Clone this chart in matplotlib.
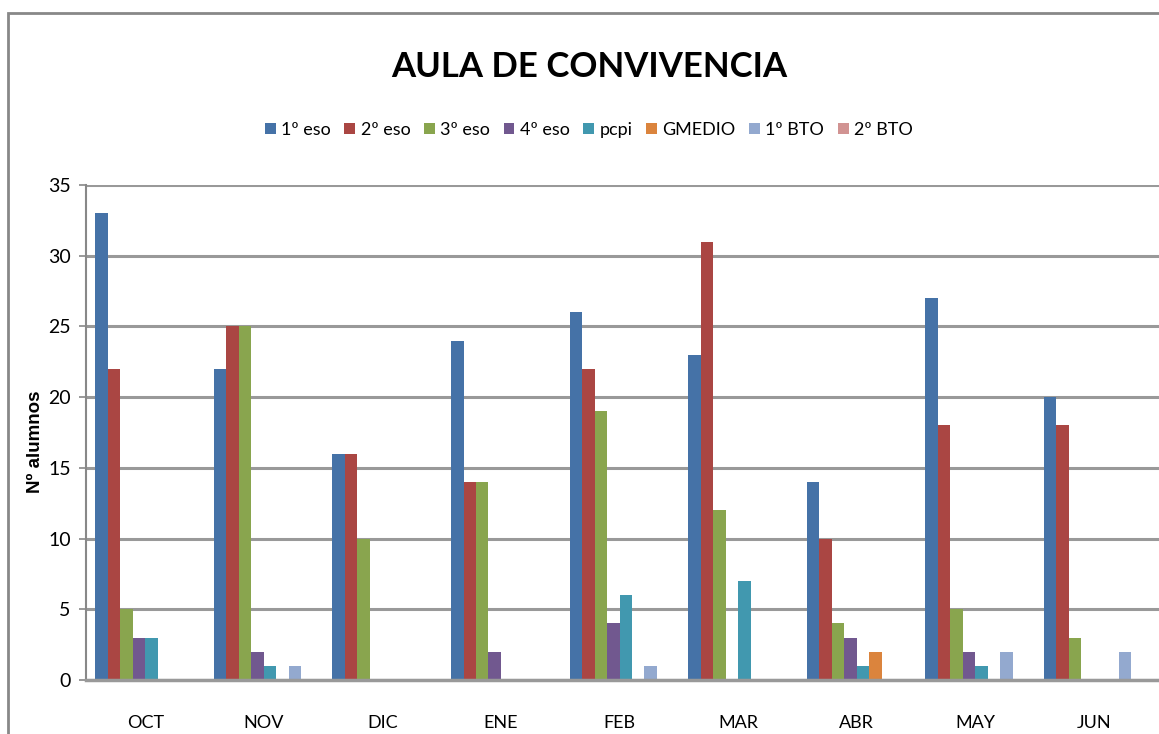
import numpy as np
import matplotlib
matplotlib.use("Agg")
from matplotlib import pyplot as plt
from matplotlib.patches import Rectangle

plt.rcParams['font.family'] = ['Lato', 'DejaVu Sans']

meses = ['OCT', 'NOV', 'DIC', 'ENE', 'FEB', 'MAR', 'ABR', 'MAY', 'JUN']
cursos = ['1º eso', '2º eso', '3º eso', '4º eso', 'pcpi', 'GMEDIO', '1º BTO', '2º BTO']
colores = ['#4572A7', '#AA4643', '#89A54E', '#71588F', '#4198AF', '#DB843D', '#93A9CF', '#D19392']

eso1 = [33, 22, 16, 24, 26, 23, 14, 27, 20]
eso2 = [22, 25, 16, 14, 22, 31, 10, 18, 18]
eso3 = [5, 25, 10, 14, 19, 12, 4, 5, 3]
eso4 = [3, 2, 0, 2, 4, 0, 3, 2, 0]
pcpi = [3, 1, 0, 0, 6, 7, 1, 1, 0]
gmedio = [0, 0, 0, 0, 0, 0, 2, 0, 0]
bto1 = [0, 1, 0, 0, 1, 0, 0, 2, 2]
bto2 = [0, 0, 0, 0, 0, 0, 0, 0, 0]
series = [eso1, eso2, eso3, eso4, pcpi, gmedio, bto1, bto2]

fig = plt.figure(figsize=(11.59, 7.34), dpi=100)
ax = fig.add_axes([86/1159, 1-680/734, 1-86/1159, (680-185)/734])

x = np.arange(len(meses))
w = 1/9.5
for i, (s, c, lab) in enumerate(zip(series, colores, cursos)):
    ax.bar(x + (i-3.5)*w, s, width=w, color=c, label=lab, zorder=3)

ax.set_xlim(-0.5, 8.55)
ax.set_ylim(0, 35)
ax.set_yticks(range(0, 36, 5))
ax.set_xticks(x)
ax.set_xticklabels(meses, fontsize=13)
ax.tick_params(axis='x', length=0, pad=25)
ax.tick_params(axis='y', length=5, width=1.2, color='#888888', labelsize=14, pad=6)
ax.grid(axis='y', color='#999999', linewidth=2.2, zorder=0)
for sp in ['top', 'right']:
    ax.spines[sp].set_visible(False)
ax.spines['left'].set_color('#888888')
ax.spines['left'].set_linewidth(1.5)
ax.spines['bottom'].set_color('#999999')
ax.spines['bottom'].set_linewidth(2.5)
ax.spines['bottom'].set_zorder(4)

fig.text(35/1159, 1-442/734, 'Nº alumnos', rotation=90, ha='center', va='center',
         fontsize=13.5, fontweight='bold', family=['Liberation Sans', 'DejaVu Sans'])

fig.text(0.508, 1-67/734, 'AULA DE CONVIVENCIA', ha='center', va='center', fontsize=25, fontweight='bold')
fig.legend(loc='center', bbox_to_anchor=(0.508, 1-130/734), ncol=8, frameon=False, fontsize=13,
           handlelength=0.6, handleheight=0.6, handletextpad=0.3, columnspacing=0.75)

fig.add_artist(Rectangle((8/1159, -0.1), 1.2, 1-13/734+0.1, transform=fig.transFigure,
                         fill=False, edgecolor='#888888', linewidth=2))

fig.savefig('out.png', dpi=100)
